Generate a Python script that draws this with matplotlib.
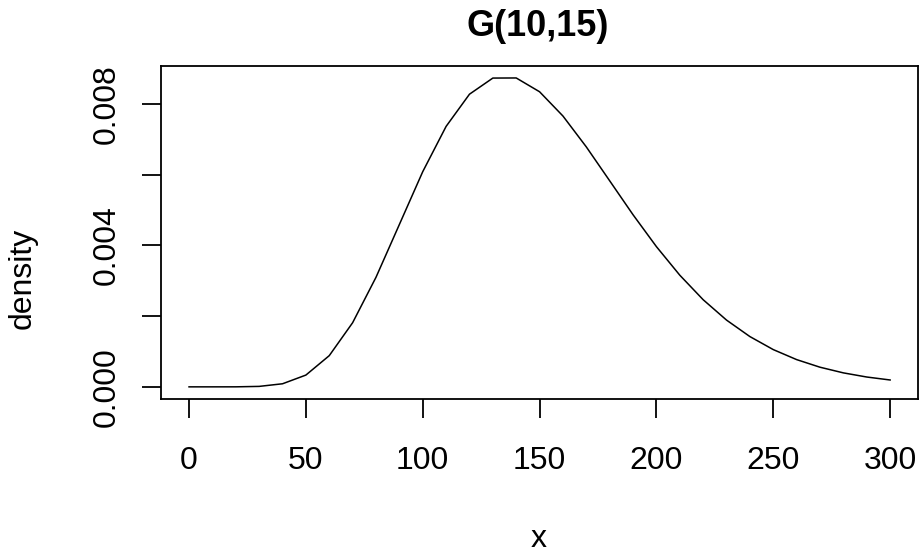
import matplotlib.pyplot as plt
import numpy as np

# gamma density G(10,15), every 10 units
x = [0, 10, 20, 30, 40, 50, 60, 70, 80, 90, 100, 110, 120, 130, 140, 150,
     160, 170, 180, 190, 200, 210, 220, 230, 240, 250, 260, 270, 280, 290, 300]
density = [0.0, 0.0, 0.0000006, 0.000013, 0.000087, 0.000333, 0.000882, 0.001813,
           0.003097, 0.004589, 0.006082, 0.007362, 0.008272, 0.008728, 0.008731,
           0.008341, 0.007655, 0.006782, 0.005824, 0.004864, 0.003963, 0.003156,
           0.002463, 0.001887, 0.001421, 0.001053, 0.000770, 0.000555, 0.000395,
           0.000278, 0.000194]

xticks = [0, 50, 100, 150, 200, 250, 300]
yticks = [0.000, 0.002, 0.004, 0.006, 0.008]
ytick_labels = ['0.000', '', '0.004', '', '0.008']

plt.rcParams['font.family'] = ['Liberation Sans', 'DejaVu Sans']

fig = plt.figure(figsize=(9.2, 5.56), dpi=100)
ax = fig.add_axes([0.175, 0.282, 0.823, 0.6])

ax.plot(x, density, color='black', lw=1.1)

xr = max(x) - min(x)
ax.set_xlim(min(x) - 0.04 * xr, max(x) + 0.04 * xr)
yr = max(density) - min(density)
ax.set_ylim(min(density) - 0.04 * yr, max(density) + 0.04 * yr)

ax.set_xticks(xticks)
ax.set_xticklabels([str(t) for t in xticks])
ax.set_yticks(yticks)
ax.set_yticklabels(ytick_labels, rotation=90, va='center')

ax.tick_params(axis='both', length=13.5, width=1.3, labelsize=23, color='black')
ax.tick_params(axis='x', pad=20)
ax.tick_params(axis='y', pad=15)
for s in ax.spines.values():
    s.set_linewidth(1.3)

fig.text(0.584, 0.953, 'G(10,15)', ha='center', va='center',
         fontsize=26, fontweight='bold')
fig.text(0.586, 0.004, 'x', ha='center', va='bottom', fontsize=23)
fig.text(0.025, 0.5, 'density', ha='center', va='center', rotation=90, fontsize=23)

fig.savefig('out.png', dpi=100)
